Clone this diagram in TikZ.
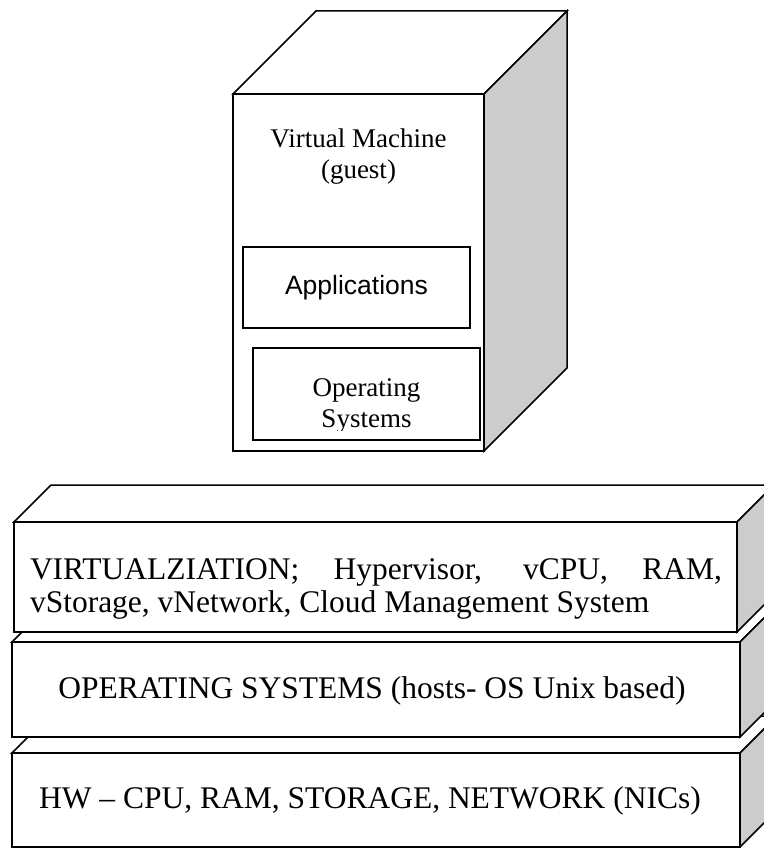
\documentclass[tikz,border=0pt]{standalone}
\usepackage{fontspec}
\setmainfont{Liberation Serif}
\setsansfont{Liberation Sans}
\usepackage{tikz}
\definecolor{SideGray}{RGB}{204,204,204}

\begin{document}
\begin{tikzpicture}[x=1pt,y=-1pt,line width=1.5pt,
  face/.style={draw,fill=white},
  side/.style={draw,fill=SideGray},
  small/.style={font=\fontsize{27}{31}\selectfont},
  large/.style={font=\fontsize{31.5}{33.5}\selectfont},
  inbox/.style={draw,rectangle,inner sep=0pt,minimum width=227pt}]
\useasboundingbox (0,0) rectangle (763,848);
% blocks: left/top/right/bottom of the front face, then depth
\foreach \l/\t/\r/\b/\d in %
{233/94/484/451/83,12/753/740/847/37,12/642/740/737/37,14/522/737/632/37} {
   \draw[face] (\l,\t) -- (\l+\d,\t-\d) -- (\r+\d,\t-\d) -- (\r,\t) -- cycle;
   \draw[side] (\r,\t) -- (\r+\d,\t-\d) -- (\r+\d,\b-\d) -- (\r,\b) -- cycle;
   \draw[face] (\l,\t) rectangle (\r,\b);
}
\node[small,align=center] (vm) at (358.5,157) {Virtual Machine\\(guest)};
\node[inbox,minimum height=81pt,font=\sffamily\fontsize{26.5}{30}\selectfont] (apps) at (356.5,287.5) {Applications};
\node[inbox,minimum height=92pt] (gos) at (366.5,394) {};
% the text box cuts off the lower line
\begin{scope}
   \clip (253,348) rectangle (480,430);
   \node[small,align=center] (gostext) at (366.5,406) {Operating\\Systems};
\end{scope}
\node[large,text width=692pt,align=justify,inner sep=0pt] (virt) at (376,589)
   {VIRTUALZIATION; Hypervisor, vCPU, RAM,\linebreak vStorage, vNetwork, Cloud Management System};
\node[large] (hostos) at (372,691) {OPERATING SYSTEMS (hosts- OS Unix based)};
\node[large] (hw) at (370,801) {HW -- CPU, RAM, STORAGE, NETWORK (NICs)};
\end{tikzpicture}
\end{document}
